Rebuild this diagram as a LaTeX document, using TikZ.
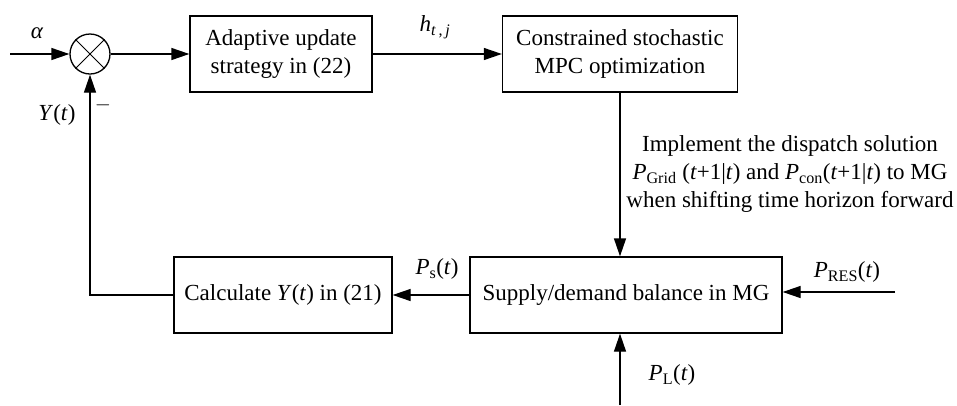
\documentclass[tikz,border=0pt]{standalone}
\usepackage{fontspec}
\setmainfont{Liberation Serif}
\usetikzlibrary{arrows.meta}

\tikzset{
  block/.style={draw, line width=1.3pt, align=center, inner sep=0pt, minimum height=76pt},
  sig/.style={line width=1.3pt, -{Triangle[length=18pt,width=12pt]}},
  lbl/.style={inner sep=0pt}
}

\begin{document}
\begin{tikzpicture}[x=1pt, y=-1pt, font=\fontsize{23}{28}\selectfont]
	\useasboundingbox (0,0) rectangle (957,405);

	% blocks
	\node[draw, circle, line width=1.3pt, minimum size=40pt, inner sep=0pt] (sum) at (90,54) {};
	\draw[line width=1pt] (sum.north west) -- (sum.south east) (sum.north east) -- (sum.south west);
	\node[block, minimum width=182pt] (adapt) at (281,54) {Adaptive update\\strategy in (22)};
	\node[block, minimum width=235pt] (mpc) at (620,54) {Constrained stochastic\\MPC optimization};
	\node[block, minimum width=312pt] (bal) at (626,295) {Supply/demand balance in MG};
	\node[block, minimum width=218pt] (calc) at (283,295) {Calculate \textit{Y}(\textit{t}) in (21)};

	\coordinate (in) at (10,54);
	\coordinate (res) at (895,292);
	\coordinate (load) at (620,405);

	% signals
	\draw[sig] (in) -- (sum);
	\draw[sig] (sum) -- (adapt);
	\draw[sig] (adapt) -- (mpc);
	\draw[sig] (mpc.south) -- (mpc.south |- bal.north);
	\draw[sig] (res) -- (res -| bal.east);
	\draw[sig] (load) -- (load |- bal.south);
	\draw[sig] (bal) -- (calc);
	\draw[sig] (calc.west) -| (sum.south);

	% labels
	\node[lbl] (alpha) at (37,33) {\textit{α}};
	\node[lbl] (h) at (435,27) {\textit{h}\textsubscript{\textit{t}\,,\,\textit{j}}};
	\node[lbl] (ps) at (437,269) {\textit{P}\textsubscript{s}(\textit{t})};
	\node[lbl] (pres) at (847,272) {\textit{P}\textsubscript{RES}(\textit{t})};
	\node[lbl] (pl) at (672,375) {\textit{P}\textsubscript{L}(\textit{t})};
	\node[lbl] (y) at (57,115) {\textit{Y}(\textit{t})};
	\node[lbl, font=\fontsize{20}{22}\selectfont] (minus) at (103,105) {$-$};
	\node[lbl, align=center] (impl) at (790,174)
		{Implement the dispatch solution\\
		 \textit{P}\textsubscript{Grid} (\textit{t}+1|\textit{t}) and \textit{P}\textsubscript{con}(\textit{t}+1|\textit{t}) to MG\\
		 when shifting time horizon forward};
\end{tikzpicture}
\end{document}
